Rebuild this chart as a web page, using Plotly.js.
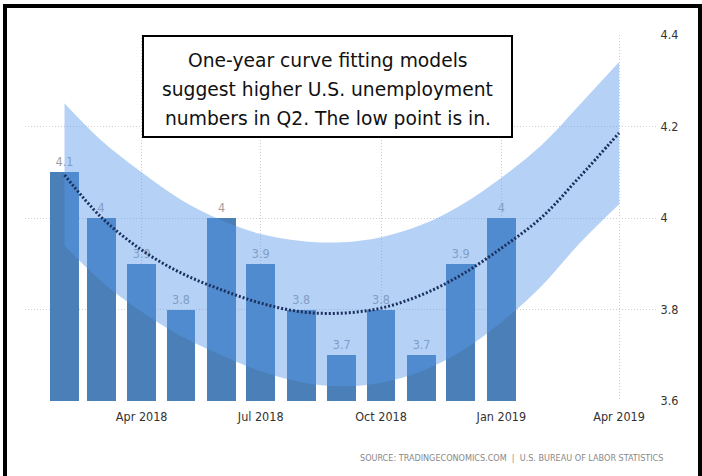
<!DOCTYPE html>
<html>
<head>
<meta charset="utf-8">
<script src="https://cdn.plot.ly/plotly-3.0.1.min.js"></script>
<style>html,body{margin:0;padding:0;background:#fff;}#chart{width:702px;height:476px;}</style>
</head>
<body>
<div id="chart"></div>
<script>
// Monthly U.S. unemployment rate (bars)
const barMonths = ['2018-02-01','2018-03-01','2018-04-01','2018-05-01','2018-06-01','2018-07-01',
                   '2018-08-01','2018-09-01','2018-10-01','2018-11-01','2018-12-01','2019-01-01'];
const barValues = [4.1, 4.0, 3.9, 3.8, 4.0, 3.9, 3.8, 3.7, 3.8, 3.7, 3.9, 4.0];

// Curve fit (dotted) and its band
const fitMonths = ['2018-02-01','2018-03-01','2018-04-01','2018-05-01','2018-06-01','2018-07-01',
                   '2018-08-01','2018-09-01','2018-10-01','2018-11-01','2018-12-01','2019-01-01',
                   '2019-02-01','2019-03-01','2019-04-01'];
const fitValues  = [4.094, 4.002, 3.930, 3.880, 3.843, 3.814, 3.795, 3.792, 3.803, 3.832, 3.875, 3.934, 4.002, 4.087, 4.186];
const bandUpper  = [4.251, 4.170, 4.100, 4.040, 3.995, 3.965, 3.950, 3.947, 3.958, 3.985, 4.028, 4.088, 4.160, 4.245, 4.341];
const bandLower  = [3.940, 3.862, 3.795, 3.742, 3.700, 3.665, 3.641, 3.632, 3.640, 3.665, 3.708, 3.772, 3.852, 3.942, 4.030];

const xTickVals  = ['2018-04-01','2018-07-01','2018-10-01','2019-01-01','2019-04-01'];
const xTickText  = ['Apr 2018','Jul 2018','Oct 2018','Jan 2019','Apr 2019'];
const yTickVals  = [3.6, 3.8, 4.0, 4.2, 4.4];
const yTickText  = ['3.6','3.8','4','4.2','4.4'];

const noteLines = ['One-year curve fitting models',
                   'suggest higher U.S. unemployment',
                   'numbers in Q2. The low point is in.'];
const sourceText = 'SOURCE: TRADINGECONOMICS.COM  |  U.S. BUREAU OF LABOR STATISTICS';

const narrow = 'Liberation Sans Narrow, DejaVu Sans Condensed, Arial Narrow, sans-serif';
const DAY = 86400000;

const traces = [
  {
    type: 'bar', x: barMonths, y: barValues,
    width: barMonths.map(() => 22 * DAY),
    marker: {color: '#4a7fb8'},
    text: barValues.map(v => String(v)),
    textposition: 'outside', cliponaxis: false,
    textfont: {family: narrow, size: 12.5, color: '#a0a0a0'},
    hoverinfo: 'skip'
  },
  {
    type: 'scatter', mode: 'lines', x: fitMonths, y: bandLower,
    line: {width: 0, shape: 'spline', smoothing: 1, color: 'rgba(0,0,0,0)'},
    hoverinfo: 'skip'
  },
  {
    type: 'scatter', mode: 'lines', x: fitMonths, y: bandUpper,
    fill: 'tonexty', fillcolor: 'rgba(91,155,235,0.45)',
    line: {width: 0, shape: 'spline', smoothing: 1, color: 'rgba(0,0,0,0)'},
    hoverinfo: 'skip'
  },
  {
    type: 'scatter', mode: 'lines', x: fitMonths, y: fitValues,
    line: {width: 3, dash: '2px,2px', shape: 'spline', color: '#1c2f5c'},
    hoverinfo: 'skip'
  }
];

// pixel -> paper helpers for decoration placement
const L = 25, R = 45, T = 35, B = 75, W = 702, H = 476;
const pw = W - L - R, ph = H - T - B;
const px = p => (p - L) / pw;
const py = p => (H - B - p) / ph;

const lineCentersPx = [61, 89.5, 118];
const noteAnnotations = noteLines.map((t, i) => ({
  xref: 'paper', yref: 'paper',
  x: px(327.5), y: py(lineCentersPx[i]), xanchor: 'center', yanchor: 'middle',
  text: t, showarrow: false,
  font: {family: 'DejaVu Sans, Verdana, sans-serif', size: 18.7, color: '#111111'}
}));

const layout = {
  width: W, height: H,
  margin: {l: L, r: R, t: T, b: B, pad: 0},
  paper_bgcolor: '#ffffff', plot_bgcolor: '#ffffff',
  showlegend: false,
  bargap: 0,
  xaxis: {
    type: 'date',
    range: ['2018-01-01 19:00', '2019-04-30'],
    tickvals: xTickVals, ticktext: xTickText,
    ticks: 'outside', ticklen: 4, tickcolor: 'rgba(0,0,0,0)',
    showgrid: true, gridcolor: '#cfcfcf', griddash: '1px,2px', gridwidth: 1,
    showline: false, zeroline: false,
    tickfont: {family: narrow, size: 12.5, color: '#333333'}
  },
  yaxis: {
    side: 'right',
    range: [3.6, 4.4],
    tickvals: yTickVals, ticktext: yTickText,
    ticks: 'outside', ticklen: 0, tickcolor: 'rgba(0,0,0,0)',
    showgrid: true, gridcolor: '#cfcfcf', griddash: '1px,2px', gridwidth: 1,
    showline: false, zeroline: false,
    tickfont: {family: narrow, size: 12.5, color: '#333333'}
  },
  annotations: noteAnnotations.concat([
    {
      xref: 'paper', yref: 'paper',
      x: px(665), y: py(458), xanchor: 'right', yanchor: 'middle',
      text: sourceText, showarrow: false,
      font: {family: narrow, size: 9, color: '#888888'}
    }
  ]),
  shapes: [
    {type: 'rect', xref: 'paper', yref: 'paper', layer: 'above',
     x0: px(143), x1: px(512), y0: py(137), y1: py(36),
     line: {color: '#000000', width: 2}, fillcolor: '#ffffff'},
    {type: 'rect', xref: 'paper', yref: 'paper', layer: 'above',
     x0: px(5), x1: px(700), y0: py(490), y1: py(6),
     line: {color: '#000000', width: 4}, fillcolor: 'rgba(0,0,0,0)'}
  ]
};

Plotly.newPlot('chart', traces, layout, {displayModeBar: false, staticPlot: true});
</script>
</body>
</html>
